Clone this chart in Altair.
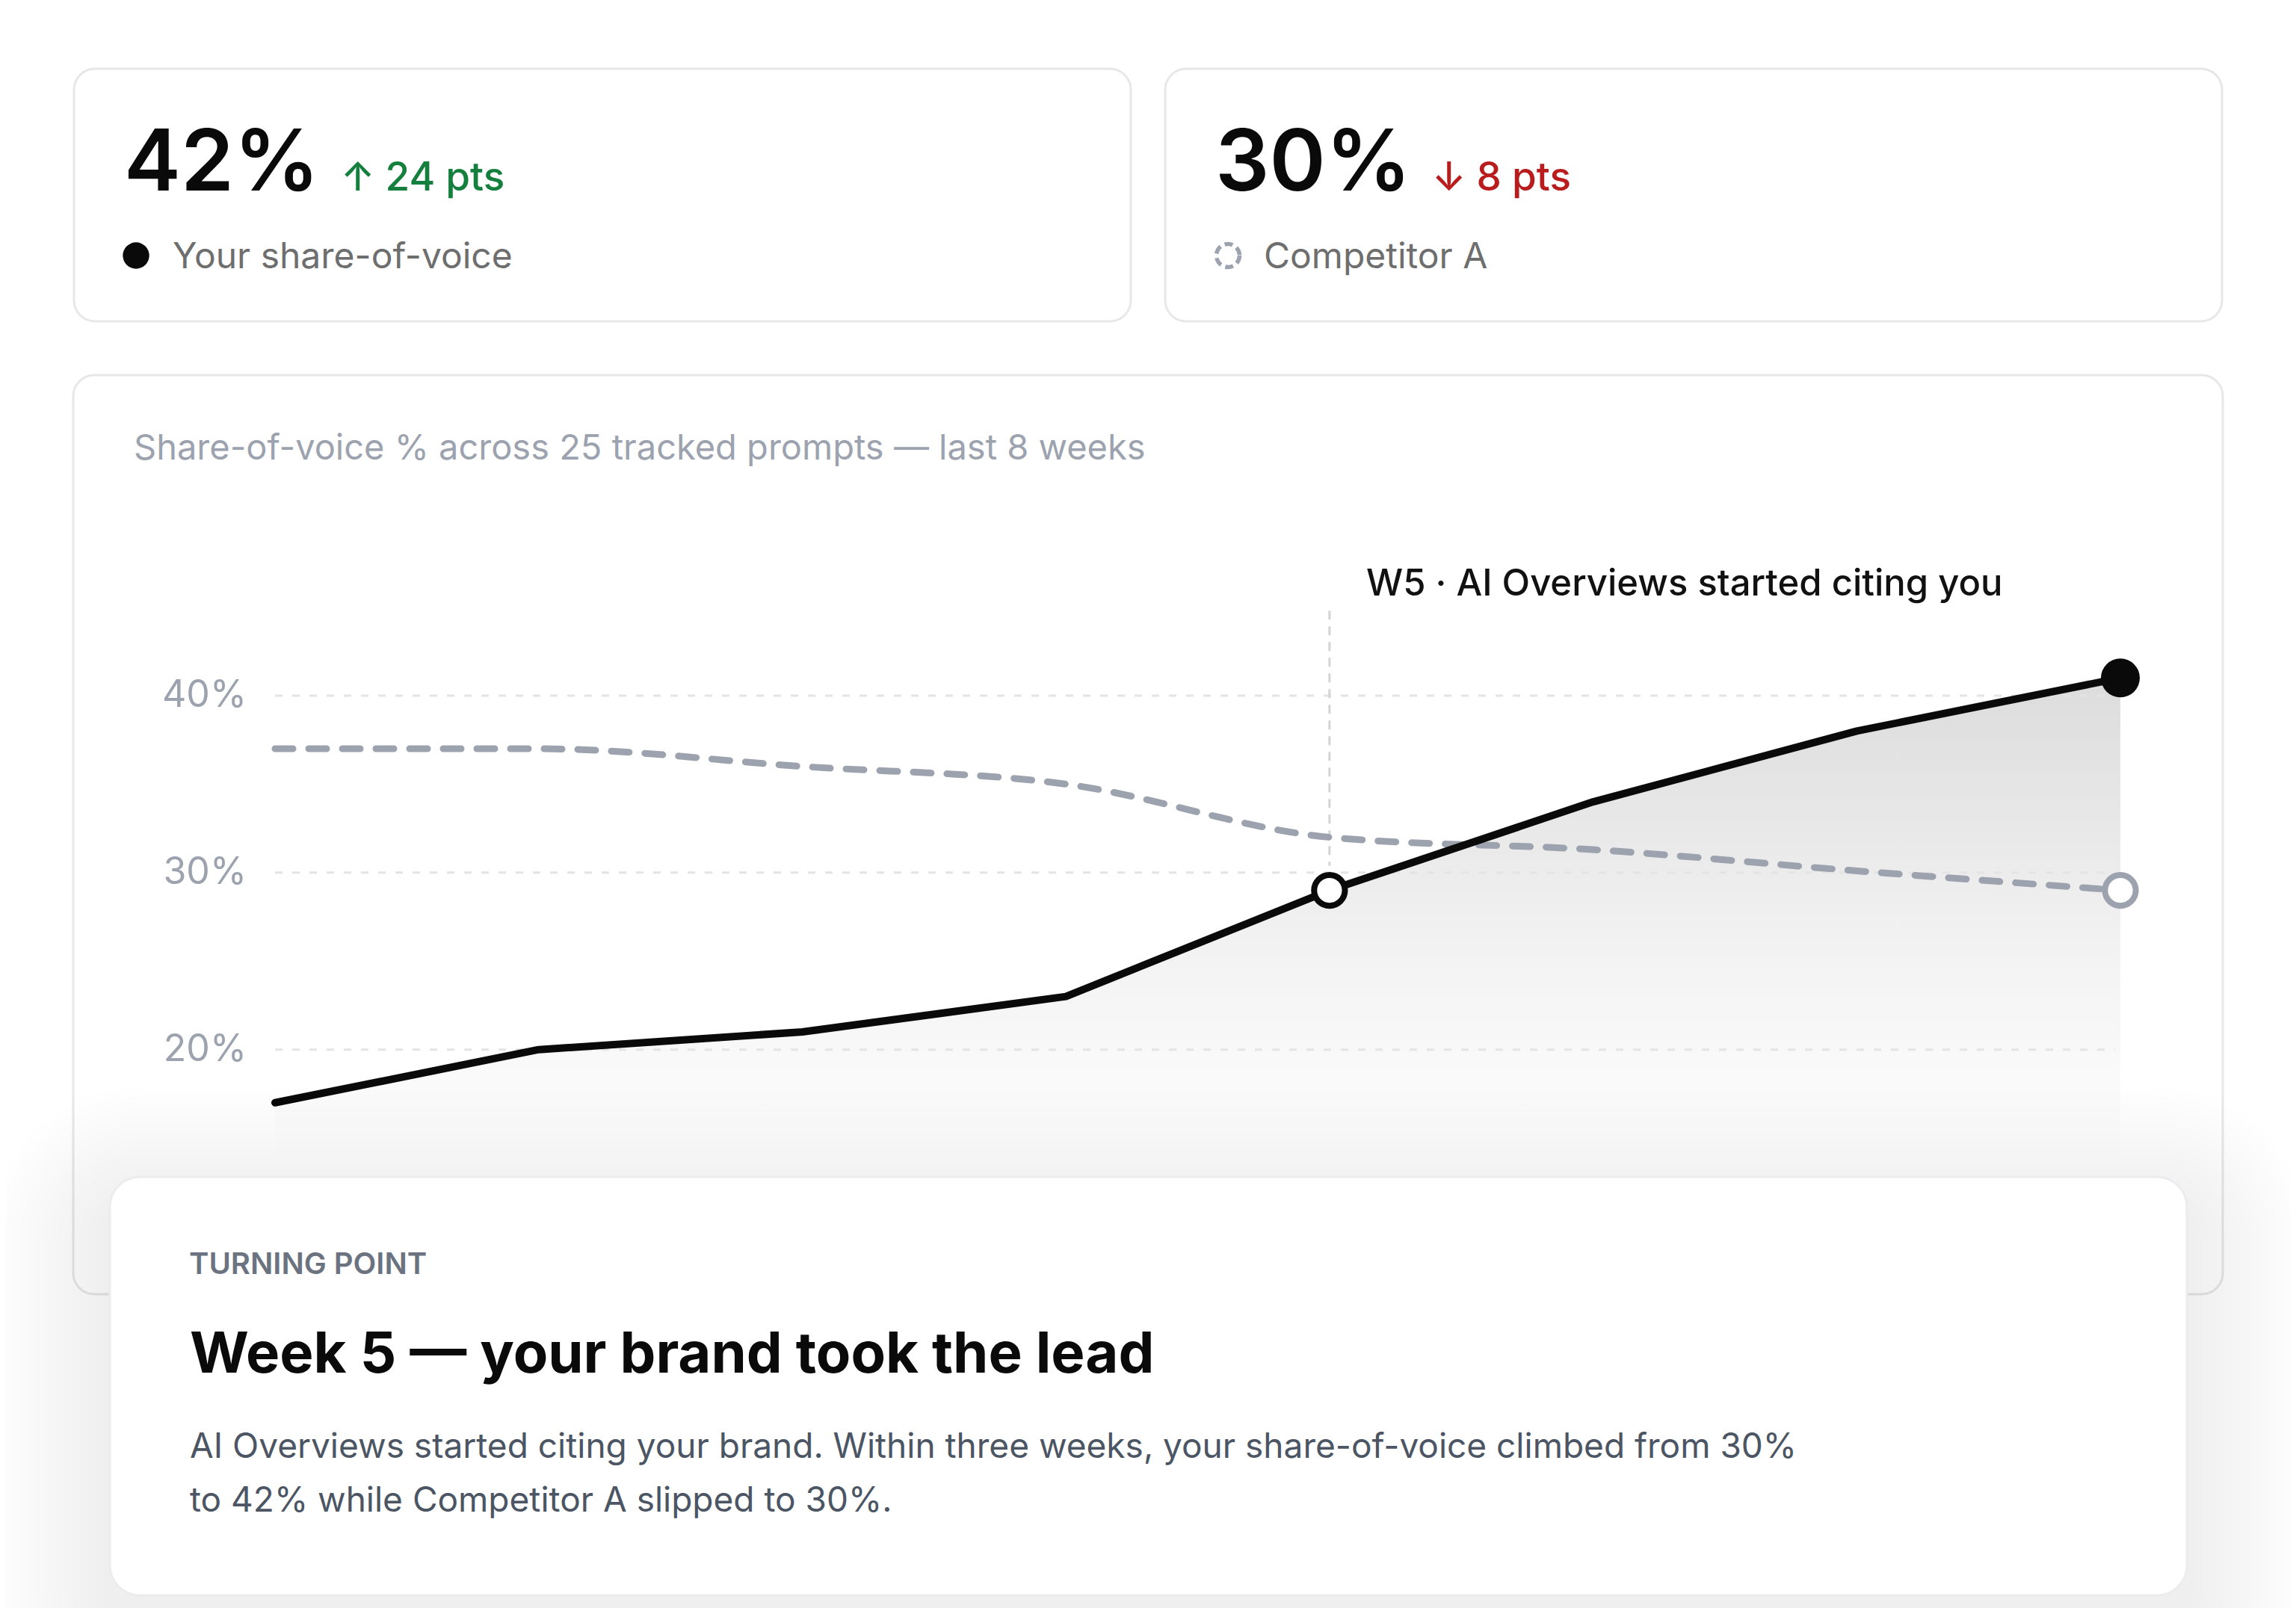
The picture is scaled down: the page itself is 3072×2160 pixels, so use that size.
import altair as alt
import pandas as pd

# ---------------- data ----------------
weeks = ["W1", "W2", "W3", "W4", "W5", "W6", "W7", "W8"]
week_num = [1, 2, 3, 4, 5, 6, 7, 8]
your_sov = [17, 20, 21, 23, 29, 34, 38, 41]
comp_sov = [37, 37, 36, 35, 32, 31.3, 30.1, 29]
y_ticks = [20, 30, 40]
y_tick_labels = ["20%", "30%", "40%"]
turning_week = 5

kpi_values = ["42%", "30%"]
kpi_deltas = ["\u2191 24 pts", "\u2193 8 pts"]
kpi_names = ["Your share-of-voice", "Competitor A"]

chart_title = "Share-of-voice % across 25 tracked prompts \u2014 last 8 weeks"
annotation = "W5 \u00b7 AI Overviews started citing you"
card_kicker = "TURNING POINT"
card_headline = "Week 5 \u2014 your brand took the lead"
card_body = [
    "AI Overviews started citing your brand. Within three weeks, your share-of-voice climbed from 30%",
    "to 42% while Competitor A slipped to 30%.",
]

df = pd.DataFrame({"week": week_num, "label": weeks, "your": your_sov, "comp": comp_sov})
ticks = pd.DataFrame({"v": y_ticks, "t": y_tick_labels})
one = pd.DataFrame({"a": [0]})

FONT = "Inter"
M = 8  # page margin offset
W, H = 3056, 2144

# pixel placement of the plot inside the full canvas (layout constants)
PX_X1, PX_X8 = 360.0, 2829.0      # x pixel of week 1 and week 8
PX_Y20, PX_Y40 = 1396.7, 923.0    # y pixel of 20% and 40%
kx = (PX_X8 - PX_X1) / 7.0
ky = (PX_Y20 - PX_Y40) / 20.0
x_dom = [1 - PX_X1 / kx, 1 + (W - PX_X1) / kx]
y_dom = [20 - (H - PX_Y20) / ky, 40 + PX_Y40 / ky]

xs = alt.Scale(domain=x_dom, nice=False, zero=False)
ys = alt.Scale(domain=y_dom, nice=False, zero=False)


def box(x0, y0, x1, y1, **kw):
    return alt.Chart(one).mark_rect(**kw).encode(
        x=alt.value(x0 - M), x2=alt.value(x1 - M), y=alt.value(y0 - M), y2=alt.value(y1 - M)
    )


def label(text, x, y, **kw):
    opts = dict(align="left", baseline="alphabetic", font=FONT)
    opts.update(kw)
    return alt.Chart(one).mark_text(text=text, **opts).encode(
        x=alt.value(x - M), y=alt.value(y - M)
    )


layers = []

# KPI cards
card_style = dict(fill="white", stroke="#e7e7e9", strokeWidth=3, cornerRadius=28)
layers.append(box(99, 92, 1513, 430, **card_style))
layers.append(box(1559, 92, 2973, 430, **card_style))

layers.append(label(kpi_values[0], 166, 255, fontSize=114, fontWeight=600, color="#0a0a0a"))
layers.append(label(kpi_deltas[0], 456, 255, fontSize=53, fontWeight=500, color="#15803d"))
layers.append(
    alt.Chart(one).mark_point(filled=True, shape="circle", size=1250, color="#0a0a0a", opacity=1)
    .encode(x=alt.value(182 - M), y=alt.value(342 - M))
)
layers.append(label(kpi_names[0], 231, 359, fontSize=48, color="#6e6e6e"))

layers.append(label(kpi_values[1], 1626, 255, fontSize=114, fontWeight=600, color="#0a0a0a"))
layers.append(label(kpi_deltas[1], 1916, 255, fontSize=53, fontWeight=500, color="#b91c1c"))
layers.append(
    alt.Chart(one).mark_point(filled=False, shape="circle", size=960, stroke="#9ca3af",
                              strokeWidth=5.5, strokeDash=[11, 6], opacity=1)
    .encode(x=alt.value(1643 - M), y=alt.value(342 - M))
)
layers.append(label(kpi_names[1], 1691, 359, fontSize=48, color="#6e6e6e"))

# chart card
layers.append(box(98, 502, 2974, 1732, **card_style))
layers.append(label(chart_title, 179, 615, fontSize=47, color="#9ca3af"))

X = alt.X("week:Q", scale=xs, axis=None)

# area under your line
area = alt.Chart(df).transform_calculate(base="13.5").mark_area(
    interpolate="linear",
    color=alt.Gradient(
        gradient="linear",
        stops=[alt.GradientStop(color="#dcdcdc", offset=0),
               alt.GradientStop(color="#f2f2f2", offset=0.55),
               alt.GradientStop(color="#ffffff", offset=1)],
        x1=1, x2=1, y1=0, y2=1,
    ),
).encode(
    x=X,
    y=alt.Y("your:Q", scale=ys, axis=None),
    y2="base:Q",
)
layers.append(area)

# gridlines + y labels
grid = alt.Chart(ticks).mark_rule(color="#e4e4e6", strokeWidth=3, strokeDash=[10, 13]).encode(
    y=alt.Y("v:Q", scale=ys, axis=None), x=alt.value(368 - M), x2=alt.value(2830 - M)
)
layers.append(grid)
ylab = alt.Chart(ticks).mark_text(align="right", baseline="middle", font=FONT, fontSize=50,
                                   color="#9ca3af").encode(
    y=alt.Y("v:Q", scale=ys, axis=None), x=alt.value(330 - M), text="t:N"
)
layers.append(ylab)

# turning point vertical rule
rule_df = pd.DataFrame({"week": [turning_week], "top": [44.8], "bot": [30.4]})
vr = alt.Chart(rule_df).mark_rule(color="#d4d4d8", strokeWidth=3, strokeDash=[12, 9]).encode(
    x=X, y=alt.Y("top:Q", scale=ys, axis=None), y2="bot:Q"
)
layers.append(vr)

# competitor line
comp_line = alt.Chart(df).mark_line(
    interpolate="monotone", color="#9ca3af", strokeWidth=9, strokeDash=[24, 21], strokeCap="round"
).encode(x=X, y=alt.Y("comp:Q", scale=ys, axis=None))
layers.append(comp_line)

# your line
your_line = alt.Chart(df).mark_line(
    interpolate="linear", color="#0a0a0a", strokeWidth=10, strokeCap="round", strokeJoin="round"
).encode(x=X, y=alt.Y("your:Q", scale=ys, axis=None))
layers.append(your_line)

# markers
turn_pt = alt.Chart(df).transform_filter(f"datum.week == {turning_week}").mark_point(
    shape="circle", filled=True, fill="white", stroke="#0a0a0a", strokeWidth=8, size=1700, opacity=1
).encode(x=X, y=alt.Y("your:Q", scale=ys, axis=None))
end_you = alt.Chart(df).transform_filter("datum.week == 8").mark_point(
    shape="circle", filled=True, color="#0a0a0a", size=2700, opacity=1
).encode(x=X, y=alt.Y("your:Q", scale=ys, axis=None))
end_comp = alt.Chart(df).transform_filter("datum.week == 8").mark_point(
    shape="circle", filled=True, fill="white", stroke="#9ca3af", strokeWidth=8, size=1700, opacity=1
).encode(x=X, y=alt.Y("comp:Q", scale=ys, axis=None))
layers += [turn_pt, end_you, end_comp]

layers.append(label(annotation, 1828, 797, fontSize=49, fontWeight=500, color="#111111"))

# shadow of overlay card
cx0, cy0, cx1, cy1 = 147, 1575, 2926, 2135
N = 16
for i in range(N, 0, -1):
    e = i * 10
    layers.append(box(cx0 - e, cy0 - e + 40, cx1 + e, cy1 + e + 40,
                      fill="#1e293b", opacity=0.0055, cornerRadius=40 + e))

layers.append(box(cx0, cy0, cx1, cy1, fill="white", stroke="#ececee", strokeWidth=3, cornerRadius=40))
layers.append(label(card_kicker, 253, 1705, fontSize=40, fontWeight=600, color="#6b7280"))
layers.append(label(card_headline, 254, 1837, fontSize=76, fontWeight=700, color="#0a0a0a"))
layers.append(label(card_body[0], 254, 1951, fontSize=46, color="#4b5563"))
layers.append(label(card_body[1], 254, 2023, fontSize=46, color="#4b5563"))

chart = alt.layer(*layers).properties(
    width=W, height=H, padding=0,
    autosize=alt.AutoSizeParams(type="none"),
    background="white",
).configure_view(stroke=None)

chart.save("out.html", embed_options={"renderer": "svg", "actions": False})
